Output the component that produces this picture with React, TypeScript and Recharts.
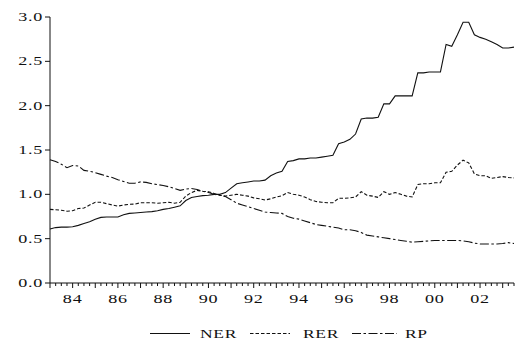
import { LineChart, Line, XAxis, YAxis } from 'recharts';

// quarterly, 1983Q1 .. 2003Q3 (index 1990 = 1)
const START_YEAR = 1983;

const ner = [
  0.61, 0.625, 0.63, 0.63, 0.635, 0.65, 0.67, 0.69, 0.72, 0.74,
  0.745, 0.745, 0.745, 0.77, 0.785, 0.79, 0.795, 0.8, 0.805, 0.815,
  0.83, 0.84, 0.855, 0.87, 0.93, 0.965, 0.975, 0.985, 0.99, 1.0,
  1.0, 1.02, 1.07, 1.12, 1.13, 1.14, 1.15, 1.15, 1.16, 1.21,
  1.24, 1.26, 1.37, 1.38, 1.4, 1.4, 1.41, 1.41, 1.42, 1.43,
  1.44, 1.57, 1.59, 1.62, 1.68, 1.85, 1.86, 1.86, 1.87, 2.02,
  2.02, 2.11, 2.11, 2.11, 2.11, 2.37, 2.37, 2.38, 2.38, 2.38,
  2.69, 2.67, 2.8, 2.94, 2.94, 2.8, 2.77, 2.75, 2.72, 2.69,
  2.65, 2.65, 2.66,
];

const rer = [
  0.83, 0.826, 0.82, 0.81, 0.815, 0.84, 0.845, 0.88, 0.91, 0.91,
  0.895, 0.88, 0.867, 0.88, 0.887, 0.89, 0.905, 0.905, 0.905, 0.9,
  0.905, 0.91, 0.9, 0.91, 0.98, 1.02, 1.045, 1.035, 1.03, 1.01,
  0.99, 0.98, 0.99, 1.0, 0.99, 0.98, 0.96, 0.95, 0.935, 0.95,
  0.97, 0.985, 1.02, 1.0, 0.99, 0.97, 0.94, 0.92, 0.91, 0.905,
  0.905, 0.955, 0.955, 0.96, 0.97, 1.03, 0.99, 0.98, 0.965, 1.03,
  1.0, 1.02, 1.0, 0.98, 0.97, 1.11, 1.12, 1.12, 1.13, 1.13,
  1.25, 1.26, 1.33, 1.385, 1.355, 1.23, 1.21, 1.21, 1.18, 1.19,
  1.2, 1.19, 1.185,
];

const rp = [
  1.39, 1.37, 1.34, 1.3, 1.325, 1.32, 1.27, 1.26, 1.245, 1.225,
  1.205, 1.19, 1.165, 1.145, 1.125, 1.125, 1.14, 1.135, 1.12, 1.11,
  1.1, 1.085, 1.065, 1.045, 1.06, 1.065, 1.055, 1.035, 1.02, 1.0,
  0.99, 0.975, 0.94, 0.9, 0.88, 0.86, 0.84, 0.82, 0.8, 0.795,
  0.79, 0.785, 0.75, 0.73, 0.72, 0.7, 0.68, 0.66, 0.65, 0.64,
  0.63, 0.62, 0.6, 0.6, 0.59, 0.57, 0.54, 0.53, 0.52, 0.51,
  0.5, 0.49, 0.48, 0.47, 0.46, 0.465, 0.47, 0.475, 0.48, 0.48,
  0.48, 0.48, 0.48, 0.475, 0.465, 0.45, 0.44, 0.44, 0.44, 0.44,
  0.445, 0.455, 0.445,
];

const yTicks = [0, 0.5, 1.0, 1.5, 2.0, 2.5, 3.0];
const yearLabels = ['84', '86', '88', '90', '92', '94', '96', '98', '00', '02'];

const FONT = '"Liberation Serif", "Times New Roman", serif';
const INK = '#111';

const data = ner.map((v, i) => ({
  t: i,
  period: `${START_YEAR + Math.floor(i / 4)}Q${(i % 4) + 1}`,
  NER: v,
  RER: rer[i],
  RP: rp[i],
}));

const xTicks = data.map((d) => d.t);

// year label -> quarter index of its Q1
const labelAt: Record<number, string> = {};
yearLabels.forEach((lab) => {
  const yr = Number(lab) < 50 ? 2000 + Number(lab) : 1900 + Number(lab);
  labelAt[(yr - START_YEAR) * 4] = lab;
});

function XTick({ x, y, payload }: any) {
  const idx = payload.value as number;
  const isYear = idx % 4 === 0;
  const lab = labelAt[idx];
  return (
    <g>
      <line x1={x} x2={x} y1={y} y2={y + (isYear ? 5 : 3)} stroke={INK} strokeWidth={1} />
      {lab && (
        <text
          transform={`translate(${x},${y + 20}) scale(1.45,1)`}
          textAnchor="middle"
          fontFamily={FONT}
          fontSize={12.5}
          letterSpacing={0.5}
          fill={INK}
        >
          {lab}
        </text>
      )}
    </g>
  );
}

function YTick({ x, y, payload }: any) {
  return (
    <g>
      <line x1={x - 5} x2={x} y1={y} y2={y} stroke={INK} strokeWidth={1} />
      <text
        transform={`translate(${x - 7},${y + 4}) scale(1.45,1)`}
        textAnchor="end"
        fontFamily={FONT}
        fontSize={12.5}
        letterSpacing={0.5}
        fill={INK}
      >
        {(payload.value as number).toFixed(1)}
      </text>
    </g>
  );
}

const legendItems = [
  { name: 'NER', dash: undefined as string | undefined, x1: 150, x2: 190, tx: 200 },
  { name: 'RER', dash: '3.5 2', x1: 250, x2: 290, tx: 303 },
  { name: 'RP', dash: '9 2.5 2.5 2.5', x1: 352, x2: 397, tx: 405 },
];

export default function App() {
  return (
    <div style={{ position: 'absolute', left: 0, top: 0, width: 515, height: 345, background: '#fff' }}>
      <LineChart width={515} height={345} data={data} margin={{ top: 17, right: 1, bottom: 0, left: 0 }}>
        <XAxis
          dataKey="t"
          type="number"
          domain={[0, 82]}
          ticks={xTicks}
          interval={0}
          height={62}
          tickSize={0}
          tickMargin={0}
          tick={<XTick />}
          axisLine={{ stroke: INK, strokeWidth: 1 }}
        />
        <YAxis
          domain={[0, 3]}
          ticks={yTicks}
          interval={0}
          width={50}
          tickSize={0}
          tickMargin={0}
          tick={<YTick />}
          axisLine={{ stroke: INK, strokeWidth: 1 }}
        />
        <Line dataKey="NER" stroke={INK} strokeWidth={1.1} dot={false} isAnimationActive={false} />
        <Line dataKey="RER" stroke={INK} strokeWidth={1.1} strokeDasharray="3.5 2" dot={false} isAnimationActive={false} />
        <Line dataKey="RP" stroke={INK} strokeWidth={1.1} strokeDasharray="9 2.5 2.5 2.5" dot={false} isAnimationActive={false} />
      </LineChart>

      {/* legend below the axis */}
      <svg width={515} height={30} style={{ position: 'absolute', left: 0, top: 320 }}>
        {legendItems.map((it) => (
          <g key={it.name}>
            <line x1={it.x1} x2={it.x2} y1={13.5} y2={13.5} stroke={INK} strokeWidth={1.1} strokeDasharray={it.dash} />
            <text
              transform={`translate(${it.tx},${18}) scale(1.4,1)`}
              fontFamily={FONT}
              fontSize={12.5}
              letterSpacing={0.5}
              fill={INK}
            >
              {it.name}
            </text>
          </g>
        ))}
      </svg>
    </div>
  );
}
